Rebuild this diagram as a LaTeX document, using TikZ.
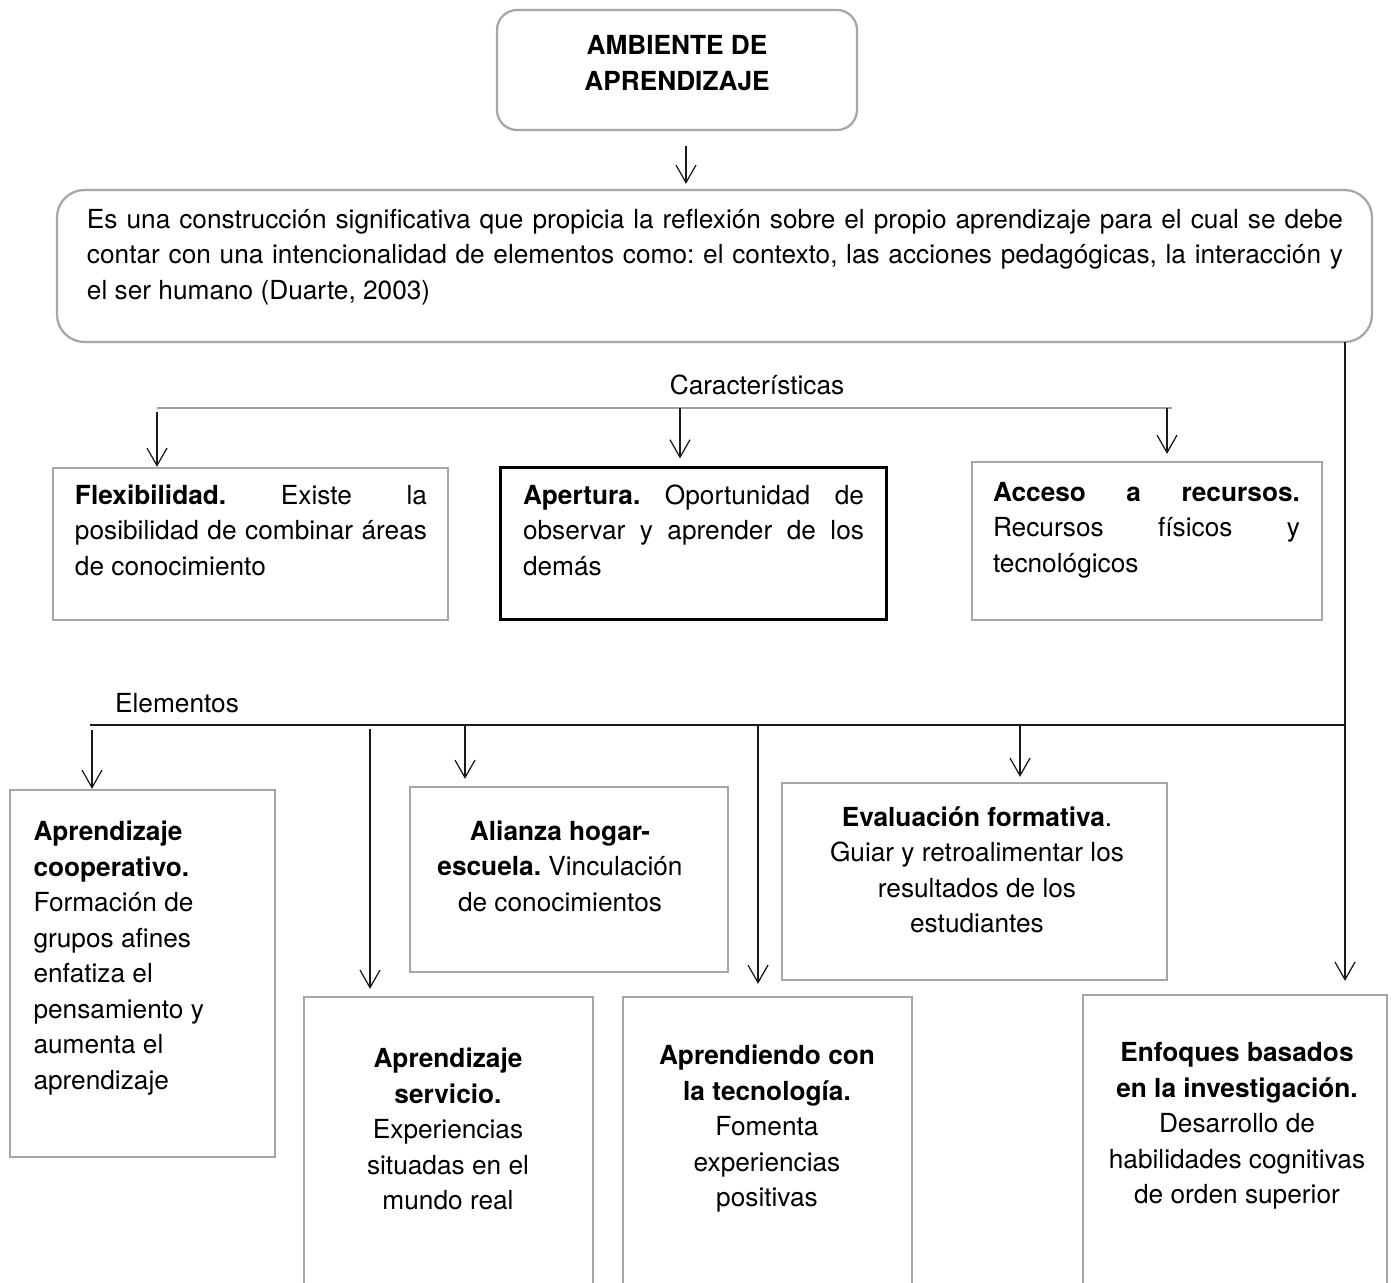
\documentclass[tikz,border=0pt]{standalone}
\usepackage{fontspec}
\setmainfont{TeX Gyre Heros}
\usepackage{tikz}
\usetikzlibrary{arrows.meta,calc,positioning}
\definecolor{AAgris}{HTML}{A6A6A6}
\definecolor{AAbus}{HTML}{A0A0A0}
\definecolor{AAtinta}{HTML}{1A1A1A}
\setlength{\parindent}{0pt}
\hyphenpenalty=10000
\frenchspacing

\begin{document}
\begin{tikzpicture}[
  x=0.4pt,y=-0.4pt,
  font=\fontsize{10.5}{14.2}\selectfont,
  line cap=butt,line join=miter,
  flecha/.style={draw=AAtinta,line width=0.5pt,-{Straight Barb[length=7pt,width=8pt]}},
  bus/.style={draw=AAtinta,line width=0.45pt},
  marco/.style={draw=AAgris,line width=0.9pt,inner sep=0pt},
  globo/.style={marco,rounded corners=#1},
  texto/.style={inner sep=0pt,text=black},
  parrafo/.style={texto,align=justify,text width=#1},
  centro/.style={texto,align=center}
]

% pixel grid of the reference, y downwards; lower boxes run off the page
\useasboundingbox (0,0) rectangle (1395,1283);
\clip (0,0) rectangle (1395,1283);

\node[globo=8pt,minimum width=144pt,minimum height=48pt] (titulo) at (677,70) {};
\node[centro,font=\fontsize{10.5}{14.2}\selectfont\bfseries] (titulo-txt) at (677,63)
  {AMBIENTE DE\\APRENDIZAJE};

\node[globo=11pt,minimum width=526pt,minimum height=60.8pt] (definicion) at (714.5,266) {};
\node[parrafo=502.4pt] (definicion-txt) at (715,257)
  {Es una construcción significativa que propicia la reflexión sobre el propio aprendizaje para el cual se debe\linebreak
   contar con una intencionalidad de elementos como: el contexto, las acciones pedagógicas, la interacción y\linebreak
   el ser humano (Duarte, 2003)};

\draw[flecha,shorten <=6pt,shorten >=2pt] ([xshift=3.6pt]titulo.south) -- ([xshift=3.6pt]titulo.south |- definicion.north);

% Caracteristicas
\node[texto] (caracteristicas) at (757,385) {Características};
\coordinate (carac-izq) at (157,408);
\coordinate (carac-der) at (1172,408);
\draw[draw=AAbus,line width=0.45pt] (carac-izq) -- (carac-der);

\node[marco,minimum width=158pt,minimum height=60.8pt] (flex) at (250.5,544) {};
\node[parrafo=140.8pt] (flex-txt) at (251,530)
  {\textbf{Flexibilidad.} Existe la\linebreak posibilidad de combinar áreas\linebreak de conocimiento};
\node[marco,draw=black,line width=1.2pt,minimum width=154.4pt,minimum height=60.8pt] (apertura) at (693,544) {};
\node[parrafo=136.4pt] (apertura-txt) at (693.5,530)
  {\textbf{Apertura.} Oportunidad de\linebreak observar y aprender de los\linebreak demás};
\node[marco,minimum width=140pt,minimum height=63.2pt] (acceso) at (1147,541) {};
\node[parrafo=122.8pt] (acceso-txt) at (1146.5,530)
  {\textbf{Acceso a recursos.}\linebreak Recursos físicos y\linebreak tecnológicos};

\foreach \xx/\dest/\ga/\gb in {157/flex/1.6/0,680/apertura/0/3.2,1167/acceso/0/2.8}{
  \coordinate (c-\dest) at (\xx,408);
  \draw[flecha,shorten <=\ga pt,shorten >=\gb pt] (c-\dest) -- (c-\dest |- \dest.north);
}

% Elementos
\node[texto] (elementos) at (177,703) {Elementos};
\coordinate (bajada) at (1345,342);
\coordinate (elem-izq) at (90,725);
\draw[bus] (elem-izq) -- (elem-izq -| bajada);

\node[marco,minimum width=106pt,minimum height=146.8pt] (coop) at (142.5,973.5) {};
\node[texto,align=left,anchor=west] (coop-txt) at (33,958)
  {\textbf{Aprendizaje}\\\textbf{cooperativo.}\\Formación de\\grupos afines\\enfatiza el\\pensamiento y\\aumenta el\\aprendizaje};

\node[marco,minimum width=115.6pt,minimum height=121.2pt] (servicio) at (448.5,1148.5) {};
\node[centro] (servicio-txt) at (448,1129)
  {\textbf{Aprendizaje}\\\textbf{servicio.}\\Experiencias\\situadas en el\\mundo real};

\node[marco,minimum width=127.2pt,minimum height=74pt] (alianza) at (569,879.5) {};
\node[centro] (alianza-txt) at (560,866)
  {\textbf{Alianza hogar-}\\\textbf{escuela.} Vinculación\\de conocimientos};

\node[marco,minimum width=115.6pt,minimum height=121.2pt] (aprendiendo) at (767.5,1148.5) {};
\node[centro] (aprendiendo-txt) at (767,1129)
  {\textbf{Aprendiendo con}\\\textbf{la tecnología.}\\Fomenta\\experiencias\\positivas};

\node[marco,minimum width=154pt,minimum height=78.8pt] (evaluacion) at (974.5,881.5) {};
\node[centro] (evaluacion-txt) at (977,870)
  {\textbf{Evaluación formativa}.\\Guiar y retroalimentar los\\resultados de los\\estudiantes};

\node[marco,minimum width=121.6pt,minimum height=122pt] (enfoques) at (1235,1147.5) {};
\node[centro] (enfoques-txt) at (1237,1126)
  {\textbf{Enfoques basados}\\\textbf{en la investigación.}\\Desarrollo de\\habilidades cognitivas\\de orden superior};

\foreach \xx/\dest/\ga/\gb in {92/coop/2/0,370/servicio/1.6/2.8,465/alianza/0/2.8,758/aprendiendo/0/4.8,1020/evaluacion/0/2}{
  \coordinate (e-\dest) at (\xx,725);
  \draw[flecha,shorten <=\ga pt,shorten >=\gb pt] (e-\dest) -- (e-\dest |- \dest.north);
}
\draw[flecha,shorten >=5.2pt] (bajada) -- (bajada |- enfoques.north);

\end{tikzpicture}
\end{document}
